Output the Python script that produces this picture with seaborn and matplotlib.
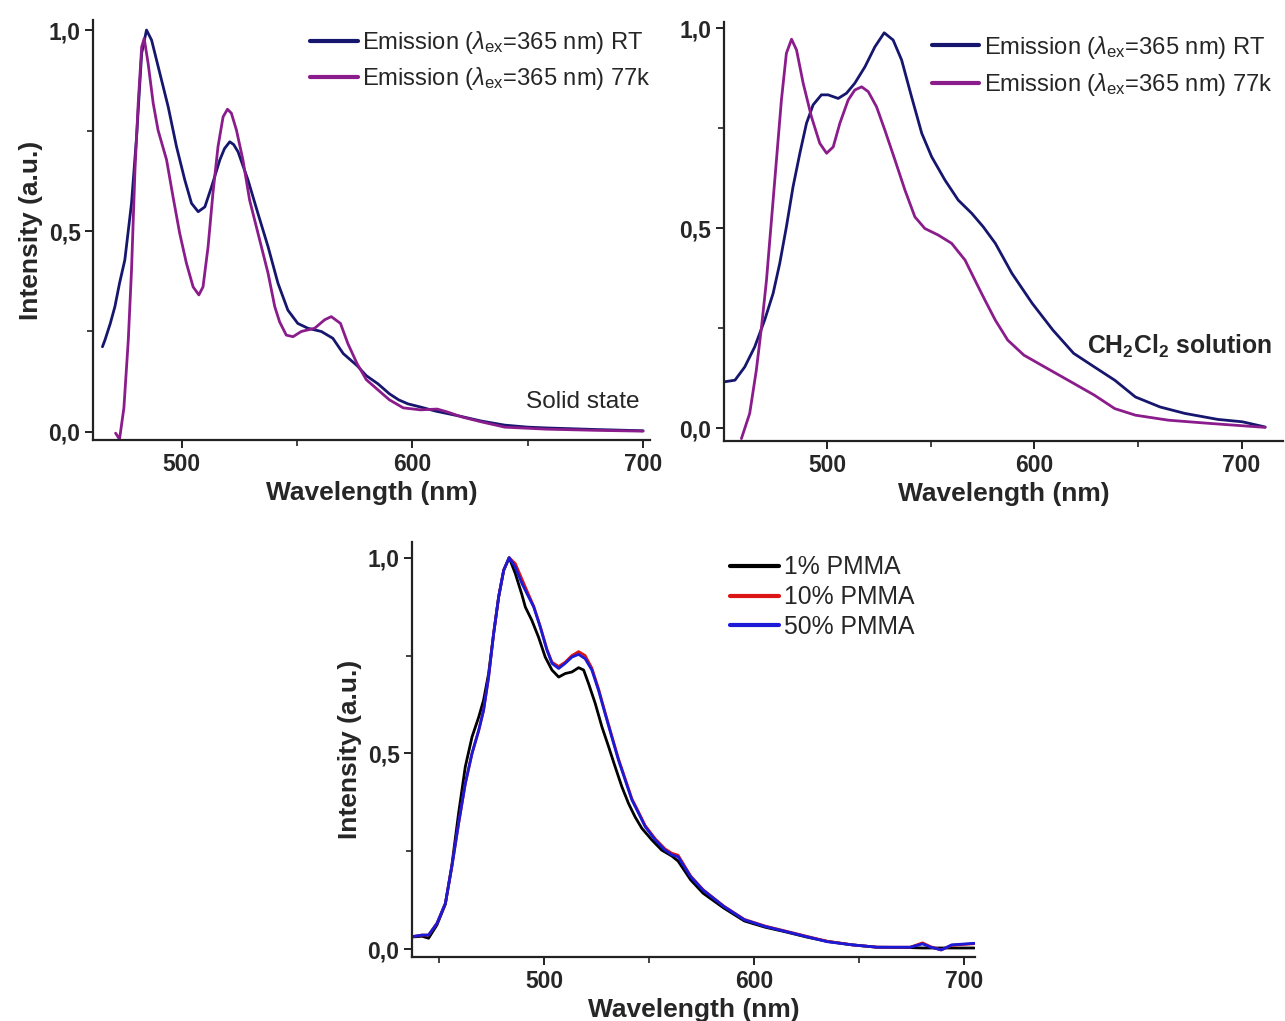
import numpy as np
import pandas as pd
import matplotlib
matplotlib.use("Agg")
import matplotlib.pyplot as plt
import seaborn as sns
from matplotlib.ticker import MultipleLocator, FuncFormatter

# ---------------------------------
# data
# ---------------------------------

# solid state, RT
wl_solid_rt = [465.6, 466.7, 469, 471, 473, 475.3, 478.2, 480.4, 482.6, 484.7, 486.9, 490.5,
               494.1, 497.7, 501.3, 504.2, 507.1, 510, 512.9, 516.5, 518.5, 520.8, 522.5,
               524.4, 528.7, 533, 537.4, 541.7, 546, 550.3, 554.7, 560.5, 565.5, 570, 576,
               580, 585, 590, 594, 598, 603.5, 610, 621.6, 630, 640, 650, 658, 680, 700]
int_solid_rt = [0.212, 0.229, 0.27, 0.312, 0.37, 0.428, 0.569, 0.735, 0.942, 1.0, 0.975, 0.892,
                0.809, 0.71, 0.627, 0.569, 0.548, 0.56, 0.61, 0.677, 0.705, 0.722, 0.715,
                0.697, 0.627, 0.544, 0.461, 0.37, 0.303, 0.27, 0.258, 0.25, 0.233, 0.195,
                0.165, 0.14, 0.12, 0.095, 0.08, 0.07, 0.062, 0.052, 0.038, 0.027, 0.017,
                0.012, 0.01, 0.006, 0.003]

# solid state, 77 K
wl_solid_77 = [471.3, 473, 474.9, 476.8, 478.2, 479.7, 481.1, 482.6, 483.7, 485.4, 487.6,
               489.7, 493.4, 496.2, 499.1, 502, 504.9, 507.4, 509.2, 511.4, 513.5, 515.7,
               517.9, 519.8, 521.5, 523.7, 526.5, 529.4, 531.6, 534.5, 537.4, 540.3, 542.4,
               545.3, 548.2, 551.8, 557.6, 561.9, 564.8, 568.8, 572, 576, 580, 585, 590, 596,
               603.5, 610.7, 615, 621.6, 630, 640, 658, 680, 700]
int_solid_77 = [-0.003, -0.018, 0.06, 0.229, 0.403, 0.652, 0.818, 0.958, 0.979, 0.917, 0.818,
                0.751, 0.677, 0.585, 0.494, 0.42, 0.361, 0.341, 0.361, 0.461, 0.594, 0.71,
                0.784, 0.803, 0.793, 0.751, 0.677, 0.577, 0.527, 0.461, 0.395, 0.312, 0.274,
                0.241, 0.237, 0.25, 0.258, 0.279, 0.287, 0.27, 0.22, 0.17, 0.13, 0.105, 0.08,
                0.06, 0.055, 0.057, 0.05, 0.037, 0.025, 0.012, 0.007, 0.004, 0.002]

# CH2Cl2 solution, RT
wl_sol_rt = [450.6, 455.6, 460.3, 465.1, 469.9, 474, 477.2, 480.4, 483.6, 486.9, 490.1, 493.3,
             497.3, 500.5, 505.4, 509.4, 513.4, 518.3, 523.1, 527.6, 531.9, 536, 540.8,
             545.7, 550.5, 556.9, 563.3, 569.8, 575.4, 581.2, 589.2, 599, 609, 619, 629,
             638.8, 648.8, 660.7, 672.6, 688.5, 700.4, 711.4]
int_sol_rt = [0.116, 0.12, 0.153, 0.203, 0.27, 0.337, 0.412, 0.503, 0.603, 0.687, 0.762,
              0.808, 0.833, 0.833, 0.824, 0.837, 0.862, 0.903, 0.953, 0.988, 0.97, 0.92,
              0.828, 0.737, 0.678, 0.62, 0.57, 0.537, 0.503, 0.462, 0.387, 0.312, 0.245,
              0.187, 0.153, 0.12, 0.078, 0.053, 0.037, 0.022, 0.016, 0.003]

# CH2Cl2 solution, 77 K
wl_sol_77 = [458.7, 462.7, 465.9, 468.4, 470.8, 473.2, 475.6, 478, 480.4, 482.9, 485.3,
             488.5, 492.5, 496.5, 499.8, 503, 506.2, 510.2, 513.4, 516.7, 519.9, 523.9,
             527.9, 532.8, 537.6, 542.4, 547.2, 553.7, 560.1, 566.6, 573, 576.2, 581.2,
             587.2, 595, 605, 619, 629, 638.8, 648.8, 664.7, 684.5, 711.4]
int_sol_77 = [-0.026, 0.037, 0.145, 0.253, 0.37, 0.52, 0.67, 0.82, 0.937, 0.972, 0.945,
              0.862, 0.778, 0.712, 0.687, 0.703, 0.762, 0.82, 0.845, 0.853, 0.841, 0.803,
              0.745, 0.67, 0.595, 0.528, 0.499, 0.4825, 0.462, 0.42, 0.353, 0.32, 0.27,
              0.22, 0.1825, 0.153, 0.112, 0.0825, 0.049, 0.0325, 0.02, 0.012, 0.002]

# PMMA films
wl_pmma_1 = [437, 441.8, 444.9, 448.9, 452.9, 456, 459.2, 462.4, 465.6, 468.8, 471.1, 473.5,
             475.9, 478.3, 480.7, 483.3, 486.2, 489.4, 491, 494.1, 497.3, 500.5, 503.7,
             506.9, 510, 513.2, 516.4, 518.8, 521.1, 524.3, 527.5, 530.7, 533.8, 537,
             540.2, 543.3, 546.5, 551.3, 556, 560.8, 563.8, 569.8, 575.7, 585.6, 595.4,
             605.3, 615.2, 625, 634.9, 646.8, 658.6, 674.4, 680.3, 689.2, 705]
int_pmma_1 = [0.031, 0.033, 0.028, 0.062, 0.115, 0.215, 0.347, 0.466, 0.542, 0.593, 0.636,
              0.704, 0.806, 0.9, 0.968, 1.0, 0.96, 0.905, 0.874, 0.84, 0.797, 0.746, 0.713,
              0.695, 0.704, 0.708, 0.719, 0.713, 0.679, 0.628, 0.568, 0.517, 0.466, 0.415,
              0.372, 0.338, 0.309, 0.279, 0.253, 0.238, 0.225, 0.177, 0.143, 0.105, 0.072,
              0.056, 0.044, 0.031, 0.02, 0.011, 0.005, 0.004, 0.003, 0.003, 0.003]

wl_pmma = [437, 441.8, 444.9, 448.9, 452.9, 456, 459.2, 462.4, 465.6, 468.8, 471.1, 473.5,
           475.9, 478.3, 480.7, 483.3, 486.2, 489.4, 491.8, 495, 498.1, 501.3, 503.7, 506.9,
           510, 513.2, 516.4, 519.5, 522.7, 525.9, 529, 532.2, 535.4, 538.6, 541.8, 545,
           548.1, 552.9, 557.6, 560.8, 563.8, 569.8, 575.7, 585.6, 595.4, 605.3, 615.2, 625,
           634.9, 646.8, 658.6, 674.4, 680.3, 684.3, 689.2, 694.2, 705]
int_pmma_10 = [0.032, 0.036, 0.036, 0.066, 0.117, 0.211, 0.321, 0.423, 0.5, 0.559, 0.61,
               0.695, 0.806, 0.9, 0.968, 1.0, 0.985, 0.945, 0.915, 0.876, 0.825, 0.766, 0.733,
               0.722, 0.733, 0.75, 0.76, 0.75, 0.718, 0.665, 0.605, 0.545, 0.486, 0.435,
               0.384, 0.35, 0.316, 0.282, 0.256, 0.245, 0.24, 0.187, 0.152, 0.11, 0.076,
               0.059, 0.046, 0.033, 0.02, 0.011, 0.005, 0.005, 0.016, 0.006, -0.002, 0.01,
               0.014]
int_pmma_50 = [0.032, 0.036, 0.036, 0.066, 0.117, 0.211, 0.321, 0.423, 0.5, 0.559, 0.61,
               0.695, 0.806, 0.9, 0.968, 1.0, 0.976, 0.934, 0.908, 0.874, 0.823, 0.764, 0.73,
               0.717, 0.73, 0.746, 0.753, 0.742, 0.713, 0.661, 0.602, 0.542, 0.483, 0.432,
               0.381, 0.347, 0.313, 0.279, 0.253, 0.241, 0.236, 0.185, 0.151, 0.109, 0.075,
               0.058, 0.045, 0.032, 0.019, 0.011, 0.005, 0.005, 0.0135, 0.005, -0.002, 0.011,
               0.015]

lbl_rt = r'Emission ($\lambda_{\rm ex}$=365 nm) RT'
lbl_77 = r'Emission ($\lambda_{\rm ex}$=365 nm) 77k'
pmma_labels = ['1% PMMA', '10% PMMA', '50% PMMA']

navy = '#16166e'
purple = '#8b1c8b'
pmma_colors = ['#000000', '#dc1414', '#1a1ad8']

# ---------------------------------
# style
# ---------------------------------

sns.set_style('ticks')
plt.rcParams['font.family'] = ['Liberation Sans', 'DejaVu Sans']
plt.rcParams['mathtext.fontset'] = 'custom'
plt.rcParams['mathtext.rm'] = 'Liberation Sans'
plt.rcParams['mathtext.it'] = 'Liberation Sans:italic'
plt.rcParams['mathtext.bf'] = 'Liberation Sans:bold'

comma = FuncFormatter(lambda v, p: f'{v:.1f}'.replace('.', ','))

fig = plt.figure(figsize=(12.85, 10.21), dpi=100)
ax1 = fig.add_axes([93 / 1285, 1 - 440 / 1021, 557 / 1285, 420 / 1021])
ax2 = fig.add_axes([724 / 1285, 1 - 441 / 1021, 559 / 1285, 419 / 1021])
ax3 = fig.add_axes([412 / 1285, 1 - 957 / 1021, 563 / 1285, 415 / 1021])


def style_axes(ax, xlim, ylim):
    ax.set_xlim(*xlim)
    ax.set_ylim(*ylim)
    sns.despine(ax=ax)
    for s in ('left', 'bottom'):
        ax.spines[s].set_linewidth(1.6)
        ax.spines[s].set_color('#222222')
    ax.xaxis.set_major_locator(MultipleLocator(100))
    ax.xaxis.set_minor_locator(MultipleLocator(50))
    ax.yaxis.set_major_locator(MultipleLocator(0.5))
    ax.yaxis.set_minor_locator(MultipleLocator(0.25))
    ax.yaxis.set_major_formatter(comma)
    ax.tick_params(which='major', length=6, width=1.4, color='#222222', labelsize=16.5, pad=3)
    ax.tick_params(which='minor', length=4, width=1.2, color='#222222')
    for t in ax.get_xticklabels() + ax.get_yticklabels():
        t.set_fontweight('bold')
    ax.set_xlabel('Wavelength (nm)', fontsize=19, fontweight='bold', labelpad=4)
    ax.set_ylabel('')


# ---------------------------------
# panel 1: solid state
# ---------------------------------
sns.lineplot(x=wl_solid_rt, y=int_solid_rt, ax=ax1, color=navy, lw=2.0, label=lbl_rt)
sns.lineplot(x=wl_solid_77, y=int_solid_77, ax=ax1, color=purple, lw=2.0, label=lbl_77)
style_axes(ax1, (461.5, 703), (-0.02, 1.025))
ax1.set_ylabel('Intensity (a.u.)', fontsize=19, fontweight='bold', labelpad=4)
ax1.text(0.982, 0.09, 'Solid state', transform=ax1.transAxes, ha='right', va='center',
         fontsize=17.6)

# ---------------------------------
# panel 2: CH2Cl2 solution
# ---------------------------------
sns.lineplot(x=wl_sol_rt, y=int_sol_rt, ax=ax2, color=navy, lw=2.0, label=lbl_rt)
sns.lineplot(x=wl_sol_77, y=int_sol_77, ax=ax2, color=purple, lw=2.0, label=lbl_77)
style_axes(ax2, (450.3, 720), (-0.032, 1.015))
ax2.text(0.98, 0.225, r'$\mathbf{CH_2Cl_2}$ solution', transform=ax2.transAxes,
         ha='right', va='center', fontsize=17.8, fontweight='bold')

# ---------------------------------
# panel 3: PMMA films
# ---------------------------------
pmma_df = pd.concat([
    pd.DataFrame({'wl': wl_pmma_1, 'I': int_pmma_1, 'film': pmma_labels[0]}),
    pd.DataFrame({'wl': wl_pmma, 'I': int_pmma_10, 'film': pmma_labels[1]}),
    pd.DataFrame({'wl': wl_pmma, 'I': int_pmma_50, 'film': pmma_labels[2]}),
])
sns.lineplot(data=pmma_df, x='wl', y='I', hue='film', palette=pmma_colors, lw=2.0,
             ax=ax3, sort=False)
style_axes(ax3, (437, 705.3), (-0.02, 1.04))
ax3.set_ylabel('Intensity (a.u.)', fontsize=19, fontweight='bold', labelpad=4)

for ax, anchor, spacing, fs in [(ax1, (0.39, 0.978), 0.38, 17.1),
                                (ax2, (0.372, 0.972), 0.45, 17.1),
                                (ax3, (0.564, 0.968), 0.24, 17.8)]:
    leg = ax.legend(loc='upper left', bbox_to_anchor=anchor, frameon=False, fontsize=fs,
                    handlelength=2.0, handletextpad=0.2, labelspacing=spacing,
                    borderpad=0, borderaxespad=0)
    for h in leg.get_lines():
        h.set_linewidth(3)

fig.savefig('out.png', dpi=100)
